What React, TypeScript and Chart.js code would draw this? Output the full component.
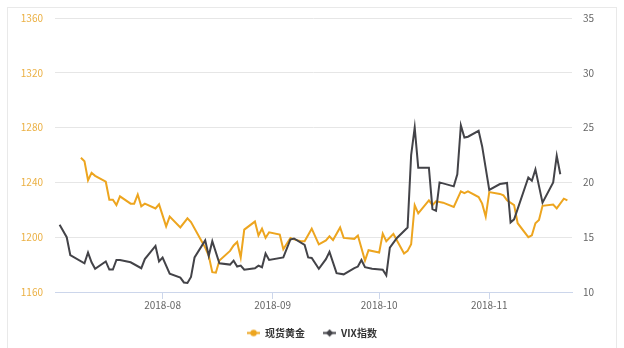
import { useEffect, useRef } from 'react';
import { Chart, registerables } from 'chart.js';

Chart.register(...registerables);

const goldDates = [
  '2018-07-09', '2018-07-10', '2018-07-11', '2018-07-12', '2018-07-13', '2018-07-16', '2018-07-17', '2018-07-18', '2018-07-19', '2018-07-20', '2018-07-23', '2018-07-24', '2018-07-25', '2018-07-26', '2018-07-27', '2018-07-30', '2018-07-31',
  '2018-08-02', '2018-08-03', '2018-08-06', '2018-08-08', '2018-08-09', '2018-08-12', '2018-08-13', '2018-08-14', '2018-08-15', '2018-08-16', '2018-08-17', '2018-08-20', '2018-08-21', '2018-08-22', '2018-08-23', '2018-08-24', '2018-08-27', '2018-08-28', '2018-08-29', '2018-08-30', '2018-08-31',
  '2018-09-03', '2018-09-04', '2018-09-06', '2018-09-07', '2018-09-09', '2018-09-10', '2018-09-12', '2018-09-14', '2018-09-16', '2018-09-17', '2018-09-18', '2018-09-20', '2018-09-21', '2018-09-24', '2018-09-25', '2018-09-27', '2018-09-28',
  '2018-10-01', '2018-10-02', '2018-10-03', '2018-10-05', '2018-10-08', '2018-10-09', '2018-10-10', '2018-10-11', '2018-10-12', '2018-10-15', '2018-10-16', '2018-10-17', '2018-10-19', '2018-10-22', '2018-10-24', '2018-10-25', '2018-10-26', '2018-10-29', '2018-10-30', '2018-10-31',
  '2018-11-01', '2018-11-04', '2018-11-05', '2018-11-06', '2018-11-08', '2018-11-09', '2018-11-12', '2018-11-13', '2018-11-14', '2018-11-15', '2018-11-16', '2018-11-19', '2018-11-20', '2018-11-22', '2018-11-23',
];
const goldValues = [
  1258, 1255.5, 1241.6, 1247, 1244.8, 1240.5, 1227.4, 1227.4, 1223.4, 1229.8, 1224.5, 1224.5, 1231.2, 1222.6, 1224.5, 1221, 1224,
  1207.9, 1215, 1207.1, 1213.8, 1211, 1197, 1192.4, 1186.4, 1174.5, 1174.1, 1183, 1190, 1194, 1196.5, 1185.2, 1205.5, 1211.4, 1201.2, 1206.2, 1199.5, 1203.6,
  1201.9, 1191.2, 1199.5, 1198.4, 1197.1, 1197.1, 1206.2, 1194.8, 1197.6, 1200.7, 1197.9, 1207.1, 1199.5, 1198.8, 1201.2, 1182.9, 1190.5,
  1188.8, 1202.6, 1197.1, 1202.4, 1188.1, 1190, 1194.8, 1223.4, 1217.4, 1226.9, 1223.4, 1226.2, 1225.2, 1222.1, 1233.4, 1232.1, 1233.4, 1229.3, 1224.5, 1215,
  1232.9, 1231.6, 1230.5, 1226.9, 1223.4, 1210.2, 1200, 1201.4, 1210.2, 1212.6, 1222.9, 1223.8, 1221, 1228.1, 1226.9,
];

const vixDates = [
  '2018-07-03', '2018-07-05', '2018-07-06', '2018-07-10', '2018-07-11', '2018-07-12', '2018-07-13', '2018-07-16', '2018-07-17', '2018-07-18', '2018-07-19', '2018-07-20', '2018-07-23', '2018-07-26', '2018-07-27', '2018-07-30', '2018-07-31',
  '2018-08-01', '2018-08-03', '2018-08-06', '2018-08-07', '2018-08-08', '2018-08-09', '2018-08-10', '2018-08-13', '2018-08-14', '2018-08-15', '2018-08-17', '2018-08-20', '2018-08-21', '2018-08-22', '2018-08-23', '2018-08-24', '2018-08-27', '2018-08-28', '2018-08-29', '2018-08-30', '2018-08-31',
  '2018-09-04', '2018-09-06', '2018-09-07', '2018-09-10', '2018-09-11', '2018-09-12', '2018-09-14', '2018-09-16', '2018-09-17', '2018-09-19', '2018-09-21', '2018-09-24', '2018-09-25', '2018-09-26', '2018-09-27', '2018-09-29',
  '2018-10-02', '2018-10-03', '2018-10-04', '2018-10-06', '2018-10-09', '2018-10-10', '2018-10-11', '2018-10-12', '2018-10-13', '2018-10-15', '2018-10-16', '2018-10-17', '2018-10-18', '2018-10-22', '2018-10-23', '2018-10-24', '2018-10-25', '2018-10-26', '2018-10-29', '2018-10-30',
  '2018-11-01', '2018-11-04', '2018-11-06', '2018-11-07', '2018-11-08', '2018-11-12', '2018-11-13', '2018-11-14', '2018-11-16', '2018-11-19', '2018-11-20', '2018-11-21',
];
const vixValues = [
  16.13, 15.0, 13.37, 12.62, 13.6, 12.71, 12.12, 12.79, 12.05, 12.05, 12.92, 12.92, 12.71, 12.17, 13.0, 14.2, 12.79,
  13.15, 11.67, 11.31, 10.87, 10.83, 11.37, 13.15, 14.71, 13.3, 14.64, 12.62, 12.5, 12.86, 12.32, 12.41, 12.03, 12.17, 12.41, 12.26, 13.51, 12.92,
  13.15, 14.79, 14.88, 14.29, 13.15, 13.1, 12.12, 13.0, 13.66, 11.72, 11.61, 12.17, 12.32, 12.92, 12.26, 12.12,
  12.03, 11.52, 14.04, 14.93, 15.89, 22.5, 25.0, 21.34, 21.34, 21.34, 17.56, 17.41, 20.0, 19.64, 20.74, 25.2, 24.1, 24.17, 24.71, 23.28,
  19.31, 19.85, 19.95, 16.34, 16.63, 20.45, 20.15, 21.19, 18.15, 20.0, 22.44, 20.74,
];

const monthTickDates = ['2018-08-01', '2018-09-01', '2018-10-01', '2018-11-01'];
const monthTickLabels = ['2018-08', '2018-09', '2018-10', '2018-11'];
const axisStartDate = '2018-07-01';
const goldLabel = '现货黄金';
const vixLabel = 'VIX指数';

const GOLD = '#EDA51F';
const VIX = '#434348';
const FONT = '"Noto Sans CJK SC", "Noto Sans", sans-serif';

function toDay(s: string): number {
  const [y, m, d] = s.split('-').map(Number);
  const [y0, m0, d0] = axisStartDate.split('-').map(Number);
  return (Date.UTC(y, m - 1, d) - Date.UTC(y0, m0 - 1, d0)) / 86400000;
}

function makeIcon(color: string, shape: 'circle' | 'diamond'): HTMLCanvasElement {
  const c = document.createElement('canvas');
  c.width = 13;
  c.height = 9;
  const ctx = c.getContext('2d')!;
  ctx.strokeStyle = color;
  ctx.lineWidth = 2;
  ctx.beginPath();
  ctx.moveTo(0, 4.5);
  ctx.lineTo(13, 4.5);
  ctx.stroke();
  ctx.fillStyle = color;
  ctx.beginPath();
  if (shape === 'circle') {
    ctx.arc(6.5, 4.5, 3.2, 0, Math.PI * 2);
  } else {
    ctx.moveTo(6.5, 0.8);
    ctx.lineTo(10.2, 4.5);
    ctx.lineTo(6.5, 8.2);
    ctx.lineTo(2.8, 4.5);
    ctx.closePath();
  }
  ctx.fill();
  return c;
}

export default function App() {
  const ref = useRef<HTMLCanvasElement | null>(null);

  useEffect(() => {
    if (!ref.current) return;
    const tickDays = monthTickDates.map(toDay);
    const chart = new Chart(ref.current, {
      type: 'line',
      data: {
        datasets: [
          {
            label: goldLabel,
            data: goldDates.map((d, i) => ({ x: toDay(d), y: goldValues[i] })),
            borderColor: GOLD,
            backgroundColor: GOLD,
            borderWidth: 2,
            pointRadius: 0,
            pointStyle: makeIcon(GOLD, 'circle') as any,
            tension: 0,
            yAxisID: 'y',
            order: 1,
          },
          {
            label: vixLabel,
            data: vixDates.map((d, i) => ({ x: toDay(d), y: vixValues[i] })),
            borderColor: VIX,
            backgroundColor: VIX,
            borderWidth: 2,
            pointRadius: 0,
            pointStyle: makeIcon(VIX, 'diamond') as any,
            tension: 0,
            yAxisID: 'y1',
            order: 0,
          },
        ],
      },
      options: {
        responsive: false,
        animation: false,
        layout: { padding: { top: 12, left: 0, right: 0, bottom: 0 } },
        plugins: {
          legend: {
            position: 'bottom',
            labels: {
              usePointStyle: true,
              pointStyleWidth: 13,
              padding: 18,
              color: '#333333',
              font: { size: 10, weight: 'bold', family: FONT },
              sort: (a: any, b: any) => a.datasetIndex - b.datasetIndex,
            },
          },
          tooltip: { enabled: false },
        },
        scales: {
          x: {
            type: 'linear',
            min: 0.7,
            max: 146.3,
            afterBuildTicks: (s: any) => {
              s.ticks = tickDays.map((v) => ({ value: v }));
            },
            afterFit: (s: any) => {
              s.height = 18;
            },
            ticks: {
              autoSkip: false,
              maxRotation: 0,
              padding: 0,
              color: '#666666',
              font: { size: 10, family: FONT },
              callback: (v: any) => {
                const i = tickDays.indexOf(Number(v));
                return i >= 0 ? monthTickLabels[i] : '';
              },
            },
            grid: { drawOnChartArea: false, drawTicks: true, tickLength: 7, color: '#ccd6eb' },
            border: { display: true, color: '#ccd6eb' },
          },
          y: {
            position: 'left',
            min: 1160,
            max: 1360,
            afterFit: (s: any) => {
              s.width = 55;
            },
            ticks: {
              stepSize: 40,
              padding: 12,
              color: '#EBB043',
              font: { size: 10, family: FONT },
              callback: (v: any) => String(v),
            },
            grid: { color: '#e6e6e6', drawTicks: false },
            border: { display: false },
          },
          y1: {
            position: 'right',
            min: 10,
            max: 35,
            afterFit: (s: any) => {
              s.width = 52;
            },
            ticks: {
              stepSize: 5,
              padding: 11,
              color: '#666666',
              font: { size: 10, family: FONT },
              callback: (v: any) => String(v),
            },
            grid: { display: false, drawTicks: false },
            border: { display: false },
          },
        },
      },
    } as any);
    return () => chart.destroy();
  }, []);

  return (
    <div style={{ position: 'absolute', left: 0, top: 0, width: 624, height: 348, overflow: 'hidden', background: '#fff' }}>
      <div
        style={{
          position: 'absolute',
          left: 7,
          top: 7,
          width: 610,
          height: 380,
          boxSizing: 'border-box',
          border: '1px solid #e9e9e9',
        }}
      />
      <canvas ref={ref} width={624} height={348} style={{ position: 'absolute', left: 0, top: 0, width: 624, height: 348 }} />
    </div>
  );
}
